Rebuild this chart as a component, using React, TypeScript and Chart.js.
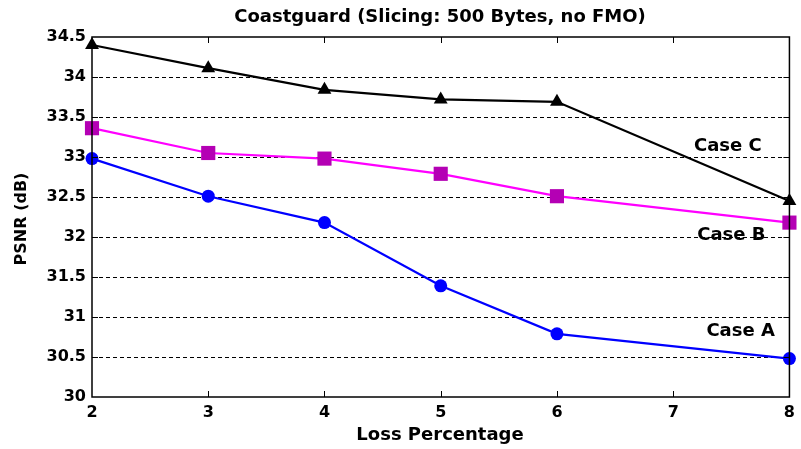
import React, { useEffect, useRef } from "react";
import { Chart, registerables } from "chart.js";

Chart.register(...registerables);

const lossPct = [2, 3, 4, 5, 6, 8];
const caseA = [32.98, 32.51, 32.18, 31.39, 30.79, 30.48];
const caseB = [33.36, 33.05, 32.98, 32.79, 32.51, 32.18];
const caseC = [34.4, 34.11, 33.84, 33.72, 33.69, 32.45];

const titleText = "Coastguard (Slicing: 500 Bytes, no FMO)";
const xTitle = "Loss Percentage";
const yTitle = "PSNR (dB)";
const caseLabels = [
  { text: "Case C", x: 7.47, y: 33.13 },
  { text: "Case B", x: 7.5, y: 32.02 },
  { text: "Case A", x: 7.58, y: 30.82 },
];

const FONT = "'DejaVu Sans', Verdana, sans-serif";

const decor = {
  id: "decor",
  beforeDatasetsDraw(chart: any) {
    const { ctx, chartArea: a, scales } = chart;
    const ys = scales.y;
    ctx.save();
    ctx.strokeStyle = "#000";
    ctx.lineWidth = 1;
    ctx.setLineDash([4, 3]);
    for (let v = 30.5; v < 34.5; v += 0.5) {
      const y = Math.round(ys.getPixelForValue(v)) + 0.5;
      ctx.beginPath();
      ctx.moveTo(a.left, y);
      ctx.lineTo(a.right, y);
      ctx.stroke();
    }
    ctx.restore();
  },
  afterDatasetsDraw(chart: any) {
    const { ctx, chartArea: a, scales } = chart;
    const xs = scales.x;
    const ys = scales.y;
    ctx.save();
    ctx.strokeStyle = "#000";
    ctx.lineWidth = 1.5;
    ctx.setLineDash([]);
    ctx.strokeRect(a.left, a.top, a.right - a.left, a.bottom - a.top);
    const L = 6;
    ctx.lineWidth = 1;
    for (let v = 3; v < 8; v++) {
      const x = Math.round(xs.getPixelForValue(v)) + 0.5;
      ctx.beginPath();
      ctx.moveTo(x, a.bottom);
      ctx.lineTo(x, a.bottom - L);
      ctx.moveTo(x, a.top);
      ctx.lineTo(x, a.top + L);
      ctx.stroke();
    }
    for (let v = 30.5; v < 34.5; v += 0.5) {
      const y = Math.round(ys.getPixelForValue(v)) + 0.5;
      ctx.beginPath();
      ctx.moveTo(a.left, y);
      ctx.lineTo(a.left + L, y);
      ctx.moveTo(a.right, y);
      ctx.lineTo(a.right - L, y);
      ctx.stroke();
    }
    ctx.fillStyle = "#000";
    ctx.textAlign = "center";
    ctx.textBaseline = "middle";
    ctx.font = `bold 18px ${FONT}`;
    ctx.fillText(titleText, 440, 17);
    ctx.font = `bold 18px ${FONT}`;
    ctx.fillText(xTitle, 440, 435);
    ctx.font = `bold 18px ${FONT}`;
    caseLabels.forEach((c) => {
      ctx.fillText(c.text, xs.getPixelForValue(c.x), ys.getPixelForValue(c.y));
    });
    ctx.save();
    ctx.translate(22, 219);
    ctx.rotate(-Math.PI / 2);
    ctx.font = `bold 16px ${FONT}`;
    ctx.fillText(yTitle, 0, 0);
    ctx.restore();
    ctx.restore();
  },
};

export default function App() {
  const ref = useRef<HTMLCanvasElement>(null);
  useEffect(() => {
    const mk = (vals: number[]) => lossPct.map((x, i) => ({ x, y: vals[i] }));
    const chart = new Chart(ref.current as HTMLCanvasElement, {
      type: "line",
      data: {
        datasets: [
          {
            label: "Case C",
            data: mk(caseC),
            borderColor: "#000000",
            backgroundColor: "#000000",
            borderWidth: 2.2,
            pointStyle: "triangle",
            pointRadius: 8,
            pointBorderWidth: 0,
            clip: false as any,
          },
          {
            label: "Case B",
            data: mk(caseB),
            borderColor: "#ff00ff",
            backgroundColor: "#b400b4",
            pointBackgroundColor: "#b400b4",
            borderWidth: 2.2,
            pointStyle: "rect",
            pointRadius: 10,
            pointBorderWidth: 0,
            clip: false as any,
          },
          {
            label: "Case A",
            data: mk(caseA),
            borderColor: "#0000ff",
            backgroundColor: "#0000ff",
            borderWidth: 2.2,
            pointStyle: "circle",
            pointRadius: 6.5,
            pointBorderWidth: 0,
            clip: false as any,
          },
        ],
      },
      options: {
        animation: false,
        responsive: false,
        maintainAspectRatio: false,
        layout: { padding: { top: 37, right: 7, left: 0, bottom: 0 } },
        plugins: { legend: { display: false }, title: { display: false }, tooltip: { enabled: false } },
        scales: {
          x: {
            type: "linear",
            min: 2,
            max: 8,
            grid: { display: false, drawTicks: false },
            border: { display: false },
            ticks: {
              stepSize: 1,
              padding: 6,
              color: "#000",
              font: { family: FONT, weight: "bold", size: 16 },
              maxRotation: 0,
            },
            afterFit: (s: any) => {
              s.height = 52;
            },
          },
          y: {
            type: "linear",
            min: 30,
            max: 34.5,
            grid: { display: false, drawTicks: false },
            border: { display: false },
            ticks: {
              stepSize: 0.5,
              padding: 6,
              color: "#000",
              font: { family: FONT, weight: "bold", size: 16 },
              callback: (v: any) => `${+v}`,
            },
            afterFit: (s: any) => {
              s.width = 92;
            },
          },
        },
      },
      plugins: [decor],
    });
    return () => chart.destroy();
  }, []);
  return (
    <div style={{ position: "fixed", left: 0, top: 0, width: 801, height: 449, background: "#fff" }}>
      <canvas ref={ref} width={801} height={449} style={{ width: 801, height: 449 }} />
    </div>
  );
}
